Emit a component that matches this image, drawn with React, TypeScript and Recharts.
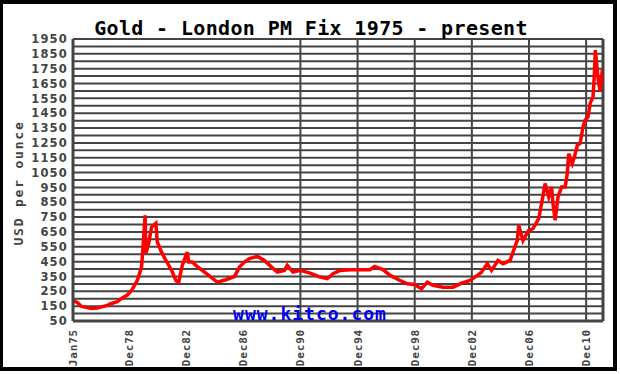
import { LineChart, Line, XAxis, YAxis, CartesianGrid, ReferenceLine } from 'recharts';

// decimal year of each reading
const years = [
  1975.0, 1975.3, 1975.6, 1976.0, 1976.3, 1976.7, 1977.0, 1977.4, 1977.7, 1978.1,
  1978.4, 1978.8, 1979.1, 1979.5, 1979.8, 1979.9, 1980.05, 1980.1, 1980.3, 1980.5,
  1980.8, 1980.9, 1981.2, 1981.5, 1981.7, 1981.9, 1982.2, 1982.4, 1982.65, 1983.0,
  1983.1, 1983.35, 1983.6, 1984.05, 1984.5, 1985.1, 1985.7, 1986.3, 1986.65, 1987.0,
  1987.35, 1987.9, 1988.4, 1988.9, 1989.3, 1989.8, 1990.0, 1990.4, 1990.9, 1991.6,
  1992.3, 1992.8, 1993.2, 1993.7, 1994.4, 1995.1, 1995.8, 1996.1, 1996.7, 1997.2,
  1997.9, 1998.4, 1998.9, 1999.4, 1999.8, 2000.2, 2000.9, 2001.6, 2002.2, 2002.8,
  2003.3, 2003.6, 2004.0, 2004.3, 2004.75, 2005.1, 2005.6, 2005.8, 2006.1, 2006.2,
  2006.5, 2006.9, 2007.2, 2007.6, 2007.8, 2008.05, 2008.3, 2008.5, 2008.6, 2008.75,
  2008.95, 2009.2, 2009.45, 2009.6, 2009.7, 2009.95, 2010.1, 2010.3, 2010.5, 2010.7,
  2010.85, 2011.05, 2011.2, 2011.4, 2011.5, 2011.56, 2011.7, 2011.77, 2011.9, 2012.05,
  2012.1,
];

// USD per ounce
const prices = [
  188, 175, 148, 140, 135, 138, 145, 155, 168, 180,
  202, 225, 256, 323, 413, 548, 762, 505, 573, 683,
  708, 582, 514, 458, 425, 391, 323, 312, 425, 514,
  447, 447, 425, 391, 357, 312, 328, 350, 413, 447,
  470, 485, 458, 413, 380, 391, 425, 380, 391, 373,
  346, 335, 369, 391, 396, 396, 396, 418, 396, 357,
  323, 301, 296, 267, 312, 290, 278, 278, 305, 323,
  357, 380, 436, 391, 458, 436, 458, 514, 593, 694,
  593, 661, 672, 740, 841, 976, 886, 953, 841, 728,
  886, 953, 953, 1043, 1178, 1111, 1156, 1234, 1246, 1358,
  1403, 1425, 1516, 1560, 1718, 1875, 1740, 1673, 1594, 1740,
  1695,
];

const xTicks = [1975.0, 1978.92, 1982.92, 1986.92, 1990.92, 1994.92, 1998.92, 2002.92, 2006.92, 2010.92];
const xTickLabels = ['Jan75', 'Dec78', 'Dec82', 'Dec86', 'Dec90', 'Dec94', 'Dec98', 'Dec02', 'Dec06', 'Dec10'];
const xGridLines = [1990.92, 1994.92, 1998.92, 2002.92, 2006.92, 2010.92];
const yLabels = [50, 150, 250, 350, 450, 550, 650, 750, 850, 950, 1050, 1150, 1250, 1350, 1450, 1550, 1650, 1750, 1850, 1950];
const yGrid = Array.from({ length: 39 }, (_, i) => 50 + i * 50);

const data = years.map((t, i) => ({ t, price: prices[i] }));

const GRAY = '#444';
const MONO = '"DejaVu Sans Mono", monospace';

const YTick = ({ x, y, payload }: any) => {
  if (!yLabels.includes(payload.value)) return null;
  return (
    <text x={x} y={y} dy="0.36em" textAnchor="end" fill={GRAY}
      fontFamily='"DejaVu Sans", sans-serif' fontWeight="bold" fontSize={11.5} letterSpacing={1.2}>
      {payload.value}
    </text>
  );
};

const XTick = ({ x, y, payload }: any) => {
  const idx = xTicks.indexOf(payload.value);
  return (
    <text x={x} y={y} dy="0.36em" textAnchor="end" transform={`rotate(-90, ${x}, ${y})`}
      fill={GRAY} fontFamily={MONO} fontWeight="bold" fontSize={11} letterSpacing={0.8}>
      {xTickLabels[idx]}
    </text>
  );
};

export default function App() {
  return (
    <div style={{ position: 'absolute', left: 0, top: 0, width: 620, height: 374, background: '#fff' }}>
      <div style={{
        position: 'absolute', left: 0, top: 0, width: 617, height: 371, boxSizing: 'border-box',
        borderStyle: 'solid', borderColor: '#000', borderWidth: '4px 4px 4px 3px',
      }} />
      <div style={{ position: 'absolute', left: 0, top: 0 }}>
        <LineChart width={620} height={374} data={data} margin={{ top: 39, right: 17, left: 0, bottom: 8 }}>
          <CartesianGrid vertical={false} stroke={GRAY} strokeWidth={2} />
          {xGridLines.map((v) => (
            <ReferenceLine key={v} x={v} stroke={GRAY} strokeWidth={2} />
          ))}
          <ReferenceLine x={2012.1} stroke={GRAY} strokeWidth={3} />
          <XAxis dataKey="t" type="number" domain={[1975, 2012.1]} ticks={xTicks} interval={0}
            tick={<XTick />} tickLine={false} tickSize={8} tickMargin={0} height={45}
            axisLine={{ stroke: GRAY, strokeWidth: 3 }} allowDataOverflow />
          <YAxis type="number" domain={[50, 1950]} ticks={yGrid} interval={0} width={73}
            tick={<YTick />} tickLine={false} tickSize={5} tickMargin={0}
            axisLine={{ stroke: GRAY, strokeWidth: 3 }} allowDataOverflow />
          <Line type="linear" dataKey="price" stroke="#ff0000" strokeWidth={3.5} dot={false} isAnimationActive={false} />
        </LineChart>
      </div>
      <svg width={620} height={374} style={{ position: 'absolute', left: 0, top: 0, pointerEvents: 'none' }}>
        <text x={311} y={35} textAnchor="middle" fill="#000" fontFamily={MONO} fontWeight="bold" fontSize={20} letterSpacing={0.35}>
          Gold - London PM Fix 1975 - present
        </text>
        <text x={18} y={183} dy="0.36em" textAnchor="middle" transform="rotate(-90, 18, 183)" fill={GRAY}
          fontFamily={MONO} fontWeight="bold" fontSize={13} letterSpacing={1.8}>
          USD per ounce
        </text>
        <text x={310} y={320} textAnchor="middle" fill="#0000ee" fontFamily={MONO} fontWeight="bold" fontSize={18} letterSpacing={1}>
          www.kitco.com
        </text>
      </svg>
    </div>
  );
}
